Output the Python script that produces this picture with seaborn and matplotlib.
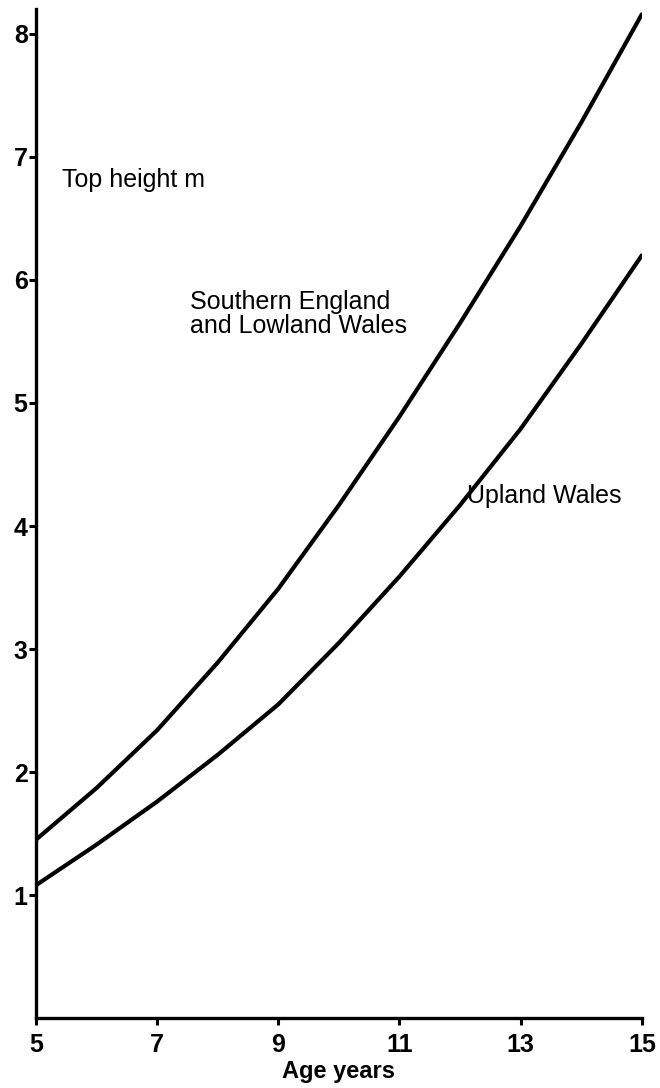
import matplotlib
matplotlib.use("Agg")
import matplotlib.pyplot as plt
import seaborn as sns
import pandas as pd

# Top height (m) by age (years) for two regions
ages = [5, 6, 7, 8, 9, 10, 11, 12, 13, 14, 15]
southern_lowland = [1.45, 1.87, 2.34, 2.89, 3.49, 4.17, 4.89, 5.65, 6.44, 7.28, 8.16]
upland_wales = [1.08, 1.41, 1.76, 2.14, 2.55, 3.05, 3.59, 4.17, 4.79, 5.48, 6.20]

x_ticks = [5, 7, 9, 11, 13, 15]
y_ticks = [1, 2, 3, 4, 5, 6, 7, 8]

df = pd.DataFrame({
    "age": ages * 2,
    "height": southern_lowland + upland_wales,
    "region": ["Southern England and Lowland Wales"] * len(ages)
              + ["Upland Wales"] * len(ages),
})

sns.set_style("white")
plt.rcParams["font.family"] = ["Liberation Sans", "DejaVu Sans"]
plt.rcParams["text.color"] = "black"

fig = plt.figure(figsize=(6.6, 10.88), dpi=100)
ax = fig.add_axes([0.0545, 0.0643, 0.918, 0.9271])

sns.lineplot(data=df, x="age", y="height", hue="region",
             palette=["black", "black"], linewidth=3.0, legend=False, ax=ax)
for line in ax.get_lines():
    line.set_solid_joinstyle("round")
    line.set_solid_capstyle("round")

ax.set_xlim(5, 15)
ax.set_ylim(0, 8.2)
ax.set_xticks(x_ticks)
ax.set_yticks(y_ticks)
ax.set_xticklabels([str(t) for t in x_ticks], fontsize=18, fontweight="bold")
ax.set_yticklabels([str(t) for t in y_ticks], fontsize=18, fontweight="bold")
ax.tick_params(axis="both", direction="out", length=5, width=2.2,
               color="black", labelcolor="black", bottom=True, left=True)
ax.tick_params(axis="x", pad=6)
ax.tick_params(axis="y", pad=1)

for side in ("top", "right"):
    ax.spines[side].set_visible(False)
for side in ("left", "bottom"):
    ax.spines[side].set_color("black")
    ax.spines[side].set_linewidth(2.4)

ax.set_xlabel("Age years", fontsize=17, fontweight="bold", color="black",
              labelpad=2)
ax.set_ylabel("")

fig.text(62 / 660, 1 - 180 / 1088, "Top height m", fontsize=18,
         va="center", ha="left", color="black")
fig.text(190 / 660, 1 - 314 / 1088, "Southern England\nand Lowland Wales",
         fontsize=18, va="center", ha="left", linespacing=1.05, color="black")
fig.text(467 / 660, 1 - 496 / 1088, "Upland Wales", fontsize=18,
         va="center", ha="left", color="black")

fig.savefig("out.png", dpi=100)
